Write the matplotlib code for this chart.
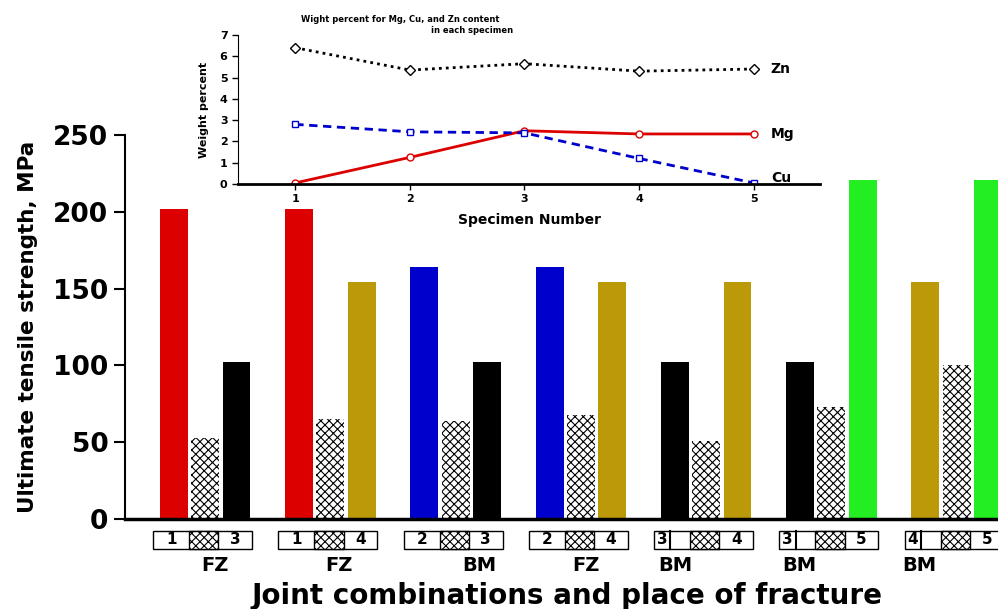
import matplotlib
matplotlib.use("Agg")
import matplotlib.pyplot as plt
from matplotlib.patches import Rectangle
import numpy as np

plt.rcParams['font.family'] = ['DejaVu Sans']
plt.rcParams['font.weight'] = 'bold'
plt.rcParams['hatch.linewidth'] = 0.8

# ---- main bar data ----
left_vals = [202, 202, 164, 164, 102, 102, 154]
mid_vals = [53, 65, 64, 68, 51, 73, 100]
right_vals = [102, 154, 102, 154, 154, 221, 221]
left_labels = ['1', '1', '2', '2', '3', '3', '4']
right_labels = ['3', '4', '3', '4', '4', '5', '5']
fracture = ['FZ', 'FZ', 'BM', 'FZ', 'BM', 'BM', 'BM']

# ---- inset data ----
specimen = [1, 2, 3, 4, 5]
zn = [6.4, 5.35, 5.65, 5.3, 5.4]
mg = [0.05, 1.25, 2.5, 2.35, 2.35]
cu = [2.8, 2.45, 2.4, 1.2, 0.05]

RED = '#DD0000'
BLUE = '#0000CC'
GOLD = '#BB9908'
GREEN = '#22EE22'
BLACK = '#000000'
color_map = {'1': RED, '2': BLUE, '3': BLACK, '4': GOLD, '5': GREEN}

fig = plt.figure(figsize=(9.98, 6.09), dpi=100)
ax = fig.add_axes([0.1253, 0.1478, 0.8747, 0.6305])

x = np.arange(len(left_vals))
w = 0.223
step = 0.25
ax.bar(x - step, left_vals, w, color=[color_map[l] for l in left_labels], linewidth=0)
ax.bar(x, mid_vals, w, color='white', edgecolor='black', linewidth=0, hatch='xxxx')
ax.bar(x + step, right_vals, w, color=[color_map[r] for r in right_labels], linewidth=0)

ax.set_xlim(-0.64, 6.33)
ax.set_ylim(0, 250)
ax.set_yticks([0, 50, 100, 150, 200, 250])
ax.tick_params(axis='y', direction='out', length=8, width=1.5, labelsize=19, pad=4)
for t in ax.get_yticklabels():
    t.set_fontweight('bold')
ax.set_xticks([])
for s in ['top', 'right']:
    ax.spines[s].set_visible(False)
ax.spines['left'].set_linewidth(1.5)
ax.spines['bottom'].set_linewidth(2.5)
ax.set_ylabel('Ultimate tensile strength, MPa', fontsize=15.5, fontweight='bold')
ax.yaxis.set_label_coords(-0.1, 0.5)

trans = ax.get_xaxis_transform()
box_top, box_bot = -0.031, -0.078
frac_off = [0.08, 0.07, 0.19, 0.04, -0.25, -0.26, -0.30]
for i in range(len(left_vals)):
    l0, d1, d2, r0 = i - 0.415, i - 0.128, i + 0.105, i + 0.375
    ax.add_patch(Rectangle((l0, box_bot), r0 - l0, box_top - box_bot, transform=trans,
                           facecolor='white', edgecolor='black', lw=1.0, clip_on=False))
    ax.add_patch(Rectangle((d1, box_bot), d2 - d1, box_top - box_bot, transform=trans,
                           facecolor='white', edgecolor='black', lw=1.0, hatch='xxxx', clip_on=False))
    if i >= 4:
        ax.plot([i - 0.285, i - 0.285], [box_bot, box_top], transform=trans, color='black',
                lw=1.5, clip_on=False)
        lx = (l0 + i - 0.285) / 2
    else:
        lx = (l0 + d1) / 2
    ax.text(lx, (box_top + box_bot) / 2, left_labels[i], transform=trans, ha='center',
            va='center', fontsize=11, fontweight='bold')
    ax.text((d2 + r0) / 2, (box_top + box_bot) / 2, right_labels[i], transform=trans,
            ha='center', va='center', fontsize=11, fontweight='bold')
    ax.text(i + frac_off[i], -0.12, fracture[i], transform=trans, ha='center', va='center',
            fontsize=14, fontweight='bold')

fig.text(0.568, 0.022, 'Joint combinations and place of fracture', ha='center', va='center',
         fontsize=20, fontweight='bold')

# ---- inset ----
ins = fig.add_axes([0.2385, 0.6979, 0.5832, 0.2447])
ins.patch.set_alpha(0)
ins.plot(specimen, zn, color='black', ls=(0, (1, 1.5)), lw=2, marker='D', ms=5,
         mfc='white', mec='black', mew=1)
ins.plot(specimen, mg, color=RED, ls='-', lw=2, marker='o', ms=5, mfc='white', mec=RED, mew=1)
ins.plot(specimen, cu, color=BLUE, ls=(0, (3, 2)), lw=2, marker='s', ms=5, mfc='white',
         mec=BLUE, mew=1)
ins.set_xlim(0.5, 5.58)
ins.set_ylim(0, 7)
ins.set_xticks(specimen)
ins.set_yticks(range(0, 8))
ins.tick_params(axis='both', direction='out', length=4, width=1, labelsize=8)
for t in ins.get_xticklabels() + ins.get_yticklabels():
    t.set_fontweight('bold')
for s in ['top', 'right']:
    ins.spines[s].set_visible(False)
ins.spines['bottom'].set_linewidth(2)
ins.set_xlabel('Specimen Number', fontsize=10, fontweight='bold', labelpad=6)
ins.set_ylabel('Weight percent', fontsize=8, fontweight='bold', labelpad=8)
ins.text(5.15, zn[-1], 'Zn', fontsize=10, fontweight='bold', va='center')
ins.text(5.15, mg[-1], 'Mg', fontsize=10, fontweight='bold', va='center')
ins.text(5.15, 0.3, 'Cu', fontsize=10, fontweight='bold', va='center')
fig.text(0.401, 0.968, 'Wight percent for Mg, Cu, and Zn content', ha='center', va='center',
         fontsize=6, fontweight='bold')
fig.text(0.473, 0.950, 'in each specimen', ha='center', va='center', fontsize=6,
         fontweight='bold')

fig.savefig('out.png', dpi=100)
